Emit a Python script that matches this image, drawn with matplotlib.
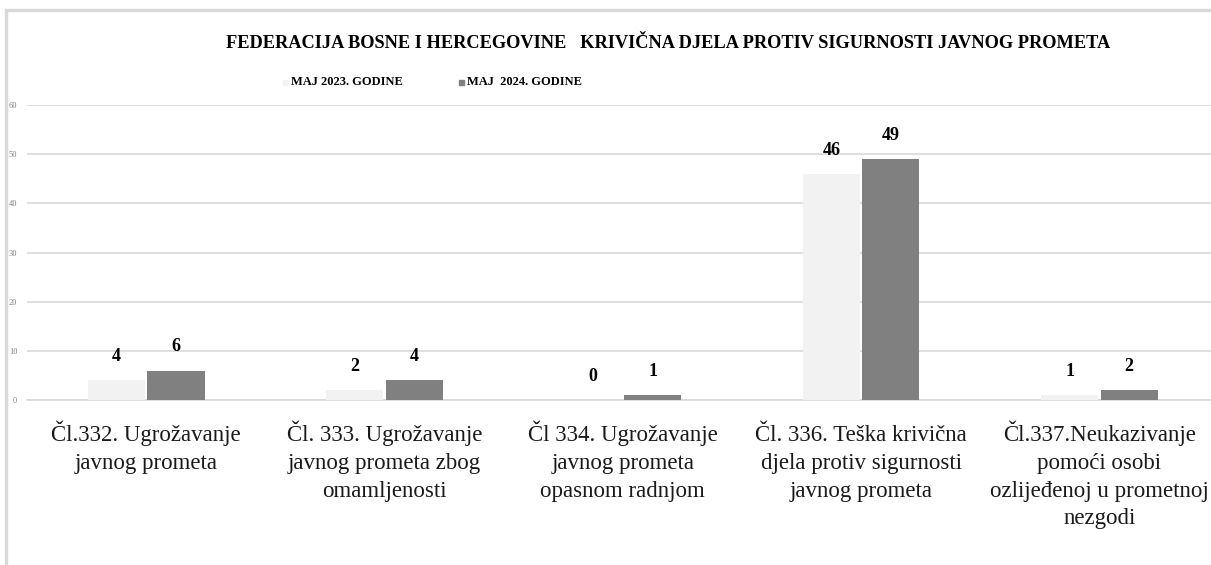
import numpy as np
import matplotlib.pyplot as plt
from matplotlib.patches import Rectangle

# podaci
categories = ['Čl.332. Ugrožavanje\njavnog prometa',
              'Čl. 333. Ugrožavanje\njavnog prometa zbog\nomamljenosti',
              'Čl 334. Ugrožavanje\njavnog prometa\nopasnom radnjom',
              'Čl. 336. Teška krivična\ndjela protiv sigurnosti\njavnog prometa',
              'Čl.337.Neukazivanje\npomoći osobi\nozlijeđenoj u prometnoj\nnezgodi']
maj_2023 = [4, 2, 0, 46, 1]
maj_2024 = [6, 4, 1, 49, 2]
series_names = ['MAJ 2023. GODINE', 'MAJ  2024. GODINE']
title = 'FEDERACIJA BOSNE I HERCEGOVINE   KRIVIČNA DJELA PROTIV SIGURNOSTI JAVNOG PROMETA'

plt.rcParams['font.family'] = ['Liberation Serif', 'DejaVu Serif']

W, H = 1211, 565
fig = plt.figure(figsize=(W / 100, H / 100), dpi=100)

# okvir grafikona (odsjecen desno i dolje)
fig.patches.append(Rectangle((6 / W, -0.1), 1.2, 1 - 10 / H + 0.1,
                             transform=fig.transFigure, fill=False,
                             edgecolor='#d9d9d9', linewidth=2.5))

ax_top, ax_bot = 105, 400
ax = fig.add_axes([27 / W, 1 - ax_bot / H, 1 - 27 / W, (ax_bot - ax_top) / H])
x = np.arange(len(categories))
w = 0.24
c1, c2 = '#f2f2f2', '#808080'
b1 = ax.bar(x - 0.125, maj_2023, w, color=c1, zorder=3)
b2 = ax.bar(x + 0.125, maj_2024, w, color=c2, zorder=3)

for bars, vals in ((b1, maj_2023), (b2, maj_2024)):
    for r, v in zip(bars, vals):
        ax.annotate(str(v), (r.get_x() + r.get_width() / 2, r.get_height()),
                    xytext=(0, 11), textcoords='offset points',
                    ha='center', va='bottom', fontsize=13, fontweight='bold')

ax.set_xlim(-0.5, -0.5 + (W - 27) / 238.3)
ax.set_ylim(0, 60)
ax.set_yticks(range(0, 61, 10))
ax.tick_params(axis='y', length=0, labelsize=6, labelcolor='#808080', pad=7)
ax.tick_params(axis='x', length=0)
ax.set_xticks(x)
ax.set_xticklabels([])

# nazivi kategorija, red po red (bazna linija ~441 px, razmak 28 px)
trans = ax.get_xaxis_transform()
for i, lab in enumerate(categories):
    for k, line in enumerate(lab.split('\n')):
        yb = 441 + 27.8 * k
        ax.text(i, -(yb - ax_bot) / (ax_bot - ax_top), line, transform=trans,
                ha='center', va='baseline', fontsize=16.5, color='#1a1a1a')

ax.grid(axis='y', color='#d9d9d9', linewidth=1.2, zorder=0)
for s in ('top', 'right', 'left'):
    ax.spines[s].set_visible(False)
ax.spines['bottom'].set_color('#d9d9d9')
ax.spines['bottom'].set_linewidth(1.2)
ax.set_facecolor('none')

fig.text(668 / W, 1 - 44 / H, title, ha='center', va='center',
         fontsize=13.2, fontweight='bold')

# legenda
for xm, col, name in ((283, c1, series_names[0]), (459, c2, series_names[1])):
    fig.patches.append(Rectangle((xm / W, 1 - 85 / H), 5 / W, 5 / H,
                                 transform=fig.transFigure, color=col))
    fig.text((xm + 8) / W, 1 - 82 / H, name, ha='left', va='center',
             fontsize=9, fontweight='bold')

fig.savefig('out.png', dpi=100)
